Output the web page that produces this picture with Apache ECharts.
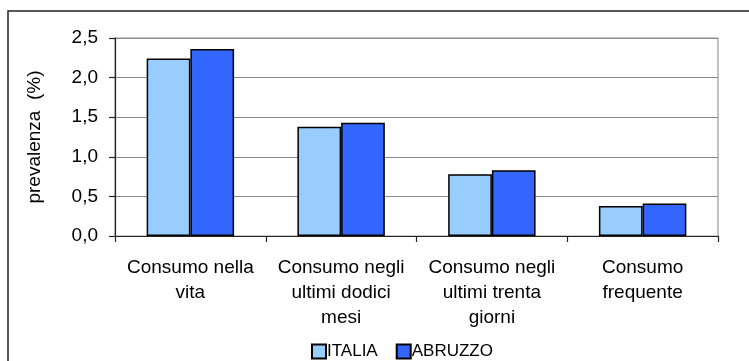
<!DOCTYPE html>
<html>
<head>
<meta charset="utf-8">
<script src="https://cdn.jsdelivr.net/npm/echarts@6/dist/echarts.min.js"></script>
<style>
  html, body { margin: 0; padding: 0; background: #fff; }
  #chart { width: 749px; height: 361px; }
</style>
</head>
<body>
<div id="chart"></div>
<script>
// Categorie di consumo
const categories = [
  'Consumo nella\nvita',
  'Consumo negli\nultimi dodici\nmesi',
  'Consumo negli\nultimi trenta\ngiorni',
  'Consumo\nfrequente'
];
// Prevalenza (%)
const italia = [2.24, 1.38, 0.78, 0.38];
const abruzzo = [2.36, 1.43, 0.83, 0.41];
const yTicks = [0, 0.5, 1.0, 1.5, 2.0, 2.5];

const chart = echarts.init(document.getElementById('chart'), null, { renderer: 'canvas' });

const fontFamily = '"Liberation Sans", Arial, sans-serif';

chart.setOption({
  animation: false,
  backgroundColor: '#ffffff',
  textStyle: { fontFamily: fontFamily },
  graphic: [
    {
      type: 'rect',
      shape: { x: 8, y: 11, width: 760, height: 380 },
      style: { fill: 'none', stroke: '#222', lineWidth: 1.5 },
      silent: true
    },
    {
      type: 'rect',
      shape: { x: 115, y: 38, width: 603, height: 198 },
      style: { fill: 'none', stroke: '#999', lineWidth: 1.2 },
      silent: true,
      z: -1
    }
  ],
  grid: { left: 115, right: 31, top: 38, bottom: 125, containLabel: false },
  legend: {
    data: ['ITALIA', 'ABRUZZO'],
    left: 311,
    top: 343,
    padding: 0,
    itemWidth: 14,
    itemHeight: 14,
    itemGap: 18,
    icon: 'rect',
    textStyle: { fontSize: 17, color: '#000', fontFamily: fontFamily, padding: [0, 0, 0, -4] }
  },
  xAxis: {
    type: 'category',
    data: categories,
    axisLine: { show: true, lineStyle: { color: '#222', width: 1.2 } },
    axisTick: { show: true, length: 6, lineStyle: { color: '#222', width: 1.2 } },
    axisLabel: {
      interval: 0,
      fontSize: 19,
      color: '#000',
      lineHeight: 25,
      margin: 19,
      fontFamily: fontFamily
    }
  },
  yAxis: {
    type: 'value',
    min: yTicks[0],
    max: yTicks[yTicks.length - 1],
    interval: 0.5,
    name: 'prevalenza  (%)',
    nameLocation: 'middle',
    nameGap: 71,
    nameRotate: 90,
    nameTextStyle: { fontSize: 19, color: '#000', fontFamily: fontFamily },
    axisLine: { show: true, lineStyle: { color: '#222', width: 1.2 } },
    axisTick: { show: true, length: 6, lineStyle: { color: '#222', width: 1.2 } },
    axisLabel: {
      fontSize: 19,
      color: '#000',
      margin: 17,
      fontFamily: fontFamily,
      formatter: v => v.toFixed(1).replace('.', ',')
    },
    splitLine: { show: true, lineStyle: { color: '#8a8a8a', width: 1.2 } }
  },
  series: [
    {
      name: 'ITALIA',
      type: 'bar',
      data: italia,
      barGap: '0%',
      barCategoryGap: '42%',
      itemStyle: { color: '#99ccff', borderColor: '#000', borderWidth: 1.5 }
    },
    {
      name: 'ABRUZZO',
      type: 'bar',
      data: abruzzo,
      itemStyle: { color: '#3366ff', borderColor: '#000', borderWidth: 1.5 }
    }
  ]
});
</script>
</body>
</html>
